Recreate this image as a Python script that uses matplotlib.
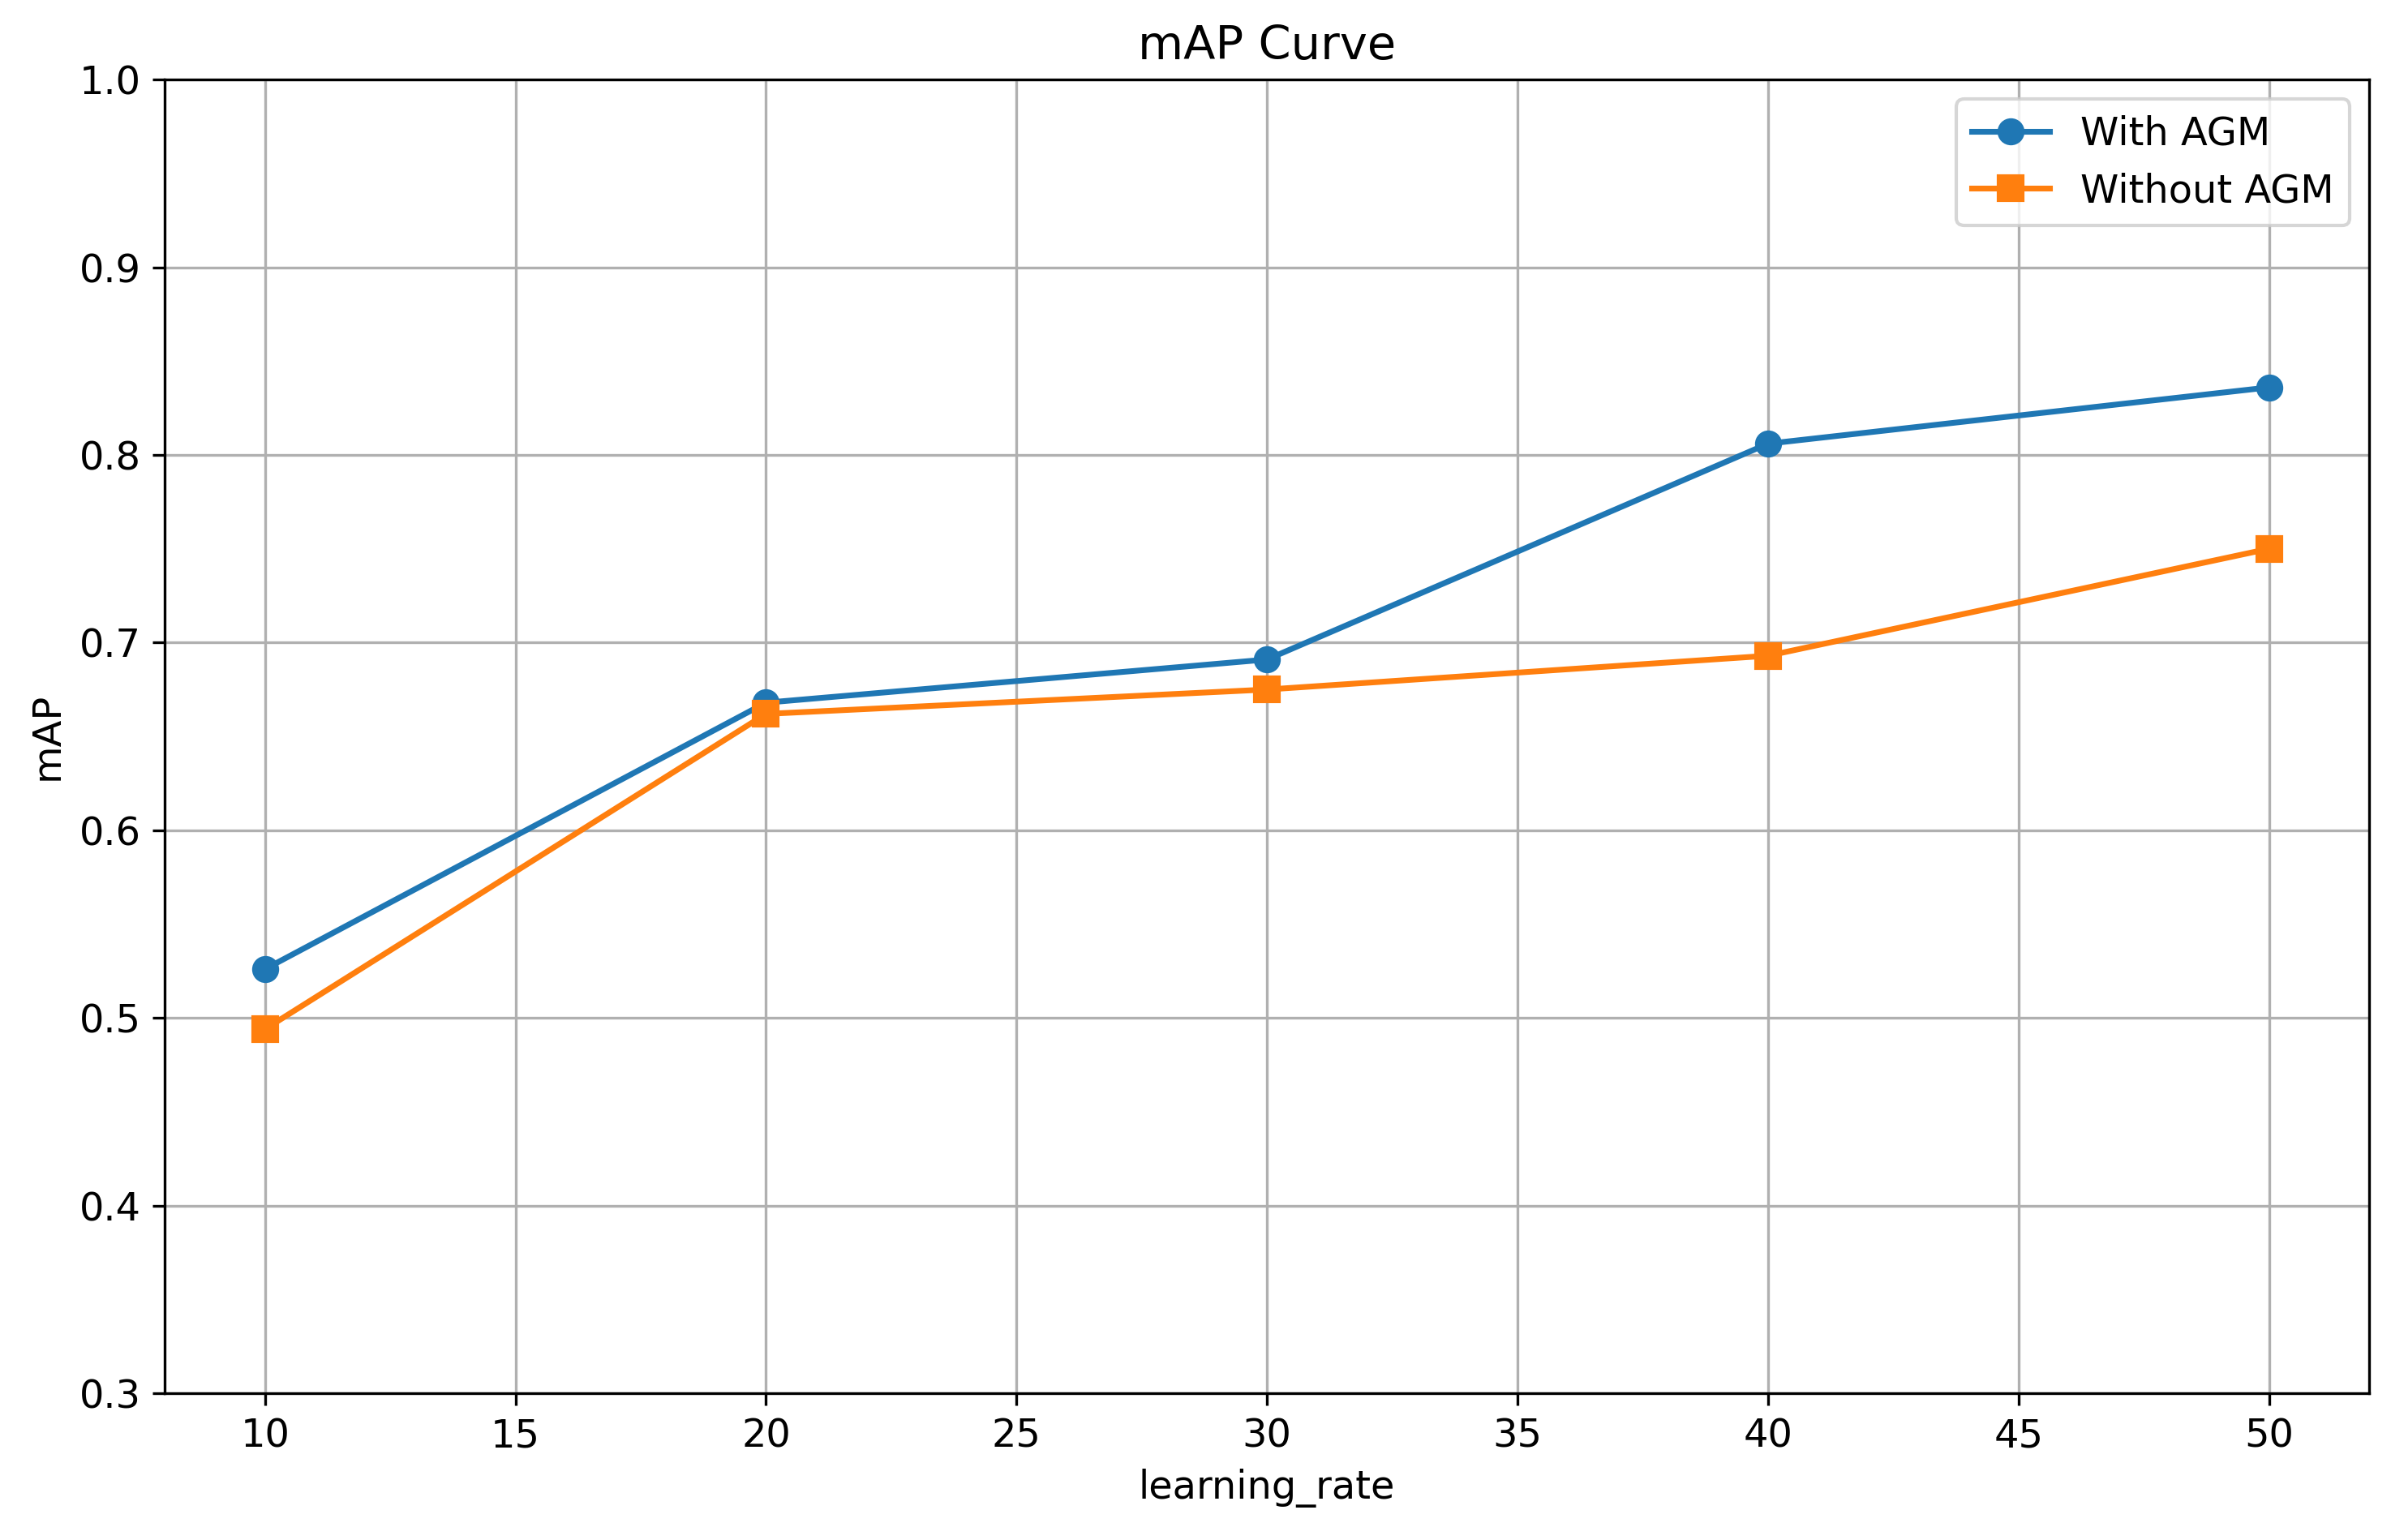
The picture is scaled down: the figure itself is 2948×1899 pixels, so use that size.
import matplotlib
matplotlib.use("Agg")
import matplotlib.pyplot as plt

# Data
learning_rate = [10, 20, 30, 40, 50]
with_agm = [0.526, 0.668, 0.691, 0.806, 0.836]
without_agm = [0.494, 0.662, 0.675, 0.693, 0.750]

plt.rcParams['font.size'] = 11.5

fig = plt.figure(figsize=(2948 / 300, 1899 / 300), dpi=300)
ax = fig.add_axes([0.0689, 0.0953, 0.922, 0.853])

ax.plot(learning_rate, with_agm, marker='o', markersize=7, linewidth=1.7,
        color='#1f77b4', label='With AGM')
ax.plot(learning_rate, without_agm, marker='s', markersize=7, linewidth=1.7,
        color='#ff7f0e', label='Without AGM')

ax.set_ylim(0.3, 1.0)
ax.set_xlabel('learning_rate')
ax.set_ylabel('mAP')
ax.set_title('mAP Curve')
ax.legend(loc='upper right')
ax.grid(True)

fig.savefig('out.png', dpi=300)
